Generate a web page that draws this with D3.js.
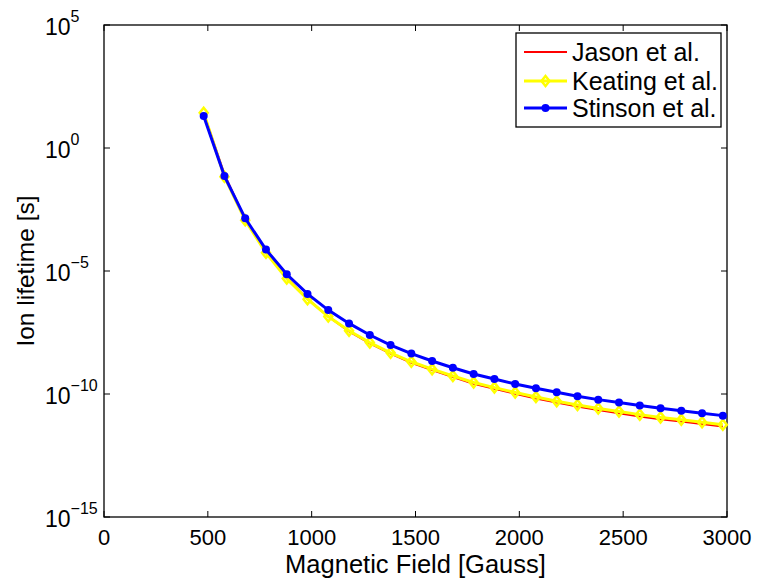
<!DOCTYPE html>
<html><head><meta charset="utf-8">
<script src="https://cdn.jsdelivr.net/npm/d3@7"></script>
<style>body{margin:0;background:#fff}svg{display:block;font-family:"Liberation Sans",Arial,Helvetica,sans-serif}</style>
</head><body><svg id="c" width="760" height="579"></svg>
<script>
const fieldGauss = [480,580,680,780,880,980,1080,1180,1280,1380,1480,1580,1680,1780,1880,1980,2080,2180,2280,2380,2480,2580,2680,2780,2880,2980];
const jason = [2.6e1,8.5e-2,1.26e-3,6.0e-5,5.2e-6,7.2e-7,1.41e-7,3.5e-8,1.15e-8,4.4e-9,1.86e-9,9.3e-10,4.9e-10,2.63e-10,1.62e-10,1.02e-10,6.6e-11,4.5e-11,3.1e-11,2.24e-11,1.66e-11,1.23e-11,9.5e-12,7.6e-12,6.0e-12,4.8e-12];
const keating = [2.7e1,6.8e-2,1.15e-3,5.5e-5,4.9e-6,7.1e-7,1.41e-7,3.7e-8,1.23e-8,4.7e-9,2.04e-9,1.02e-9,5.4e-10,2.95e-10,1.82e-10,1.15e-10,7.6e-11,5.1e-11,3.55e-11,2.57e-11,1.95e-11,1.45e-11,1.12e-11,8.9e-12,7.1e-12,5.6e-12];
const stinson = [2.0e1,7.2e-2,1.38e-3,7.4e-5,7.4e-6,1.17e-6,2.57e-7,7.4e-8,2.5e-8,9.8e-9,4.4e-9,2.19e-9,1.17e-9,6.5e-10,4.1e-10,2.57e-10,1.70e-10,1.17e-10,8.1e-11,5.9e-11,4.5e-11,3.4e-11,2.63e-11,2.09e-11,1.66e-11,1.32e-11];
const seriesNames = ["Jason et al.","Keating et al.","Stinson et al."];
const xTicks = [0,500,1000,1500,2000,2500,3000];
const yTickExps = [5,0,-5,-10,-15];
const xLabel = "Magnetic Field [Gauss]";
const yLabel = "Ion lifetime [s]";

const svg = d3.select("#c");
const L=104,R=727,T=25,B=517;
const x = d3.scaleLinear().domain([0,3000]).range([L,R]);
const y = d3.scaleLog().domain([1e-15,1e5]).range([B,T]);

const g = svg.append("g");
xTicks.forEach(v=>{
  g.append("line").attr("x1",x(v)).attr("x2",x(v)).attr("y1",B).attr("y2",B-6).attr("stroke","#000");
  g.append("line").attr("x1",x(v)).attr("x2",x(v)).attr("y1",T).attr("y2",T+6).attr("stroke","#000");
  g.append("text").attr("x",x(v)).attr("y",545).attr("text-anchor","middle").attr("font-size",22).text(v);
});
yTickExps.forEach(e=>{
  const yy=y(Math.pow(10,e));
  g.append("line").attr("x1",L).attr("x2",L+6).attr("y1",yy).attr("y2",yy).attr("stroke","#000");
  g.append("line").attr("x1",R).attr("x2",R-6).attr("y1",yy).attr("y2",yy).attr("stroke","#000");
  const t=g.append("text").attr("x",45).attr("y",yy+10).attr("font-size",23);
  t.append("tspan").text("10");
  t.append("tspan").attr("dy",-13).attr("font-size",16).text(e<0?"\u2212"+(-e):String(e));
});
svg.append("rect").attr("x",L).attr("y",T).attr("width",R-L).attr("height",B-T).attr("fill","none").attr("stroke","#000").attr("stroke-width",1.3);

svg.append("text").attr("x",(L+R)/2).attr("y",573).attr("text-anchor","middle").attr("font-size",25.5).text(xLabel);
svg.append("text").attr("transform",`translate(34,${(T+B)/2}) rotate(-90)`).attr("text-anchor","middle").attr("font-size",24.5).text(yLabel);

const line = d3.line().x(d=>x(d[0])).y(d=>y(d[1]));
const plot = svg.append("g");
const dJ = fieldGauss.map((v,i)=>[v,jason[i]]);
const dK = fieldGauss.map((v,i)=>[v,keating[i]]);
const dS = fieldGauss.map((v,i)=>[v,stinson[i]]);
plot.append("path").datum(dJ).attr("d",line).attr("fill","none").attr("stroke","#ff0000").attr("stroke-width",2);
plot.append("path").datum(dK).attr("d",line).attr("fill","none").attr("stroke","#ffff00").attr("stroke-width",3);
const diamond = (cx,cy)=>`M${cx},${cy-5}L${cx+4},${cy}L${cx},${cy+5}L${cx-4},${cy}Z`;
plot.selectAll(".dk").data(dK).enter().append("path").attr("d",d=>diamond(x(d[0]),y(d[1]))).attr("fill","none").attr("stroke","#ffff00").attr("stroke-width",2.5);
plot.append("path").datum(dS).attr("d",line).attr("fill","none").attr("stroke","#0000ff").attr("stroke-width",3);
plot.selectAll(".ds").data(dS).enter().append("circle").attr("cx",d=>x(d[0])).attr("cy",d=>y(d[1])).attr("r",4).attr("fill","#0000ff");

const lg = svg.append("g");
lg.append("rect").attr("x",516).attr("y",33).attr("width",205).attr("height",94).attr("fill","#fff").attr("stroke","#000").attr("stroke-width",1.3);
const rows=[52,81,108];
const cols=["#ff0000","#ffff00","#0000ff"];
seriesNames.forEach((n,i)=>{
  lg.append("line").attr("x1",524).attr("x2",567).attr("y1",rows[i]).attr("y2",rows[i]).attr("stroke",cols[i]).attr("stroke-width",i===0?2:3);
  if(i===1) lg.append("path").attr("d",diamond(545.5,rows[i])).attr("fill","none").attr("stroke",cols[i]).attr("stroke-width",2.5);
  if(i===2) lg.append("circle").attr("cx",545.5).attr("cy",rows[i]).attr("r",4).attr("fill",cols[i]);
  lg.append("text").attr("x",572).attr("y",rows[i]+8.5).attr("font-size",25).text(n);
});
</script></body></html>
